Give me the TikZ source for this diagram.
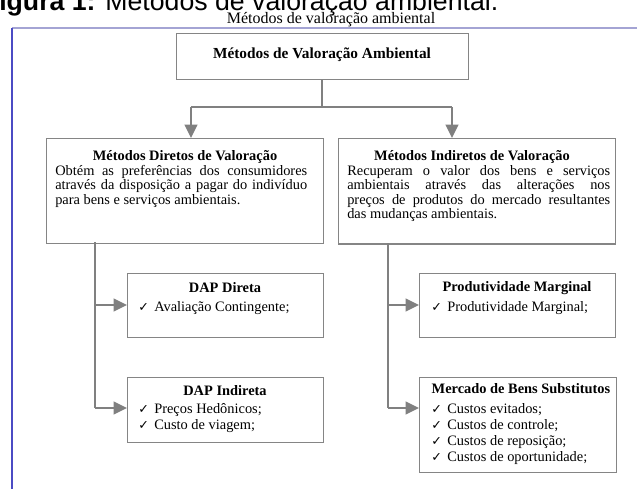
\documentclass[tikz,border=0pt]{standalone}
\usepackage{fontspec}
\setmainfont{Liberation Serif}
\newfontfamily\hdrfont{Liberation Sans}
\newfontfamily\symfont{DejaVu Sans}
\usetikzlibrary{arrows.meta}
\definecolor{linegray}{HTML}{808080}
\definecolor{boxgray}{HTML}{858585}
\definecolor{frametop}{HTML}{A4A4D4}
\definecolor{frameleft}{HTML}{4B4BC4}
\newcommand{\bodysize}{\fontsize{10.8pt}{11.25pt}\selectfont}
\newcommand{\chk}{{\symfont\fontsize{9.5pt}{9.5pt}\selectfont ✓}}
\begin{document}
\begin{tikzpicture}[x=0.75pt,y=-0.75pt,
  box/.style={draw=boxgray, line width=0.9pt, fill=white, anchor=north west, inner sep=0pt},
  conn/.style={draw=linegray, line width=1.2pt},
  arr/.style={conn, -{Triangle[length=10pt,width=9.5pt]}},
  ln/.style={inner sep=0pt, anchor=base west, font=\bodysize},
  ttl/.style={inner sep=0pt, anchor=base, font=\bodysize\bfseries},
  ck/.style={inner sep=0pt, anchor=base west},
]
\useasboundingbox (0,0) rectangle (637,489);
\clip (0,0) rectangle (637,489);
\fill[white] (0,0) rectangle (637,489);

% header and caption
\node[inner sep=0pt, anchor=base west, font=\hdrfont\fontsize{20pt}{20pt}\selectfont] (hdr) at (-1,10.5) {\textbf{igura 1:} Métodos de valoração ambiental.};
\node[inner sep=0pt, anchor=base, font=\fontsize{12pt}{12pt}\selectfont] (cap) at (331,23.5) {Métodos de valoração ambiental};

% frame
\draw[frametop, line width=1.2pt] (12,28) -- (640,28);
\draw[frameleft, line width=1.1pt] (12,27.5) -- (12,492);

% boxes
\node[box, minimum width=219pt, minimum height=34.5pt] (top) at (176,33) {};
\node[box, minimum width=207.75pt, minimum height=78.5pt] (lbox) at (46,138) {};
\node[box, minimum width=207.75pt, minimum height=79pt] (rbox) at (338,138) {};
\node[box, minimum width=147pt, minimum height=48pt] (dapd) at (127,273) {};
\node[box, minimum width=147pt, minimum height=48.75pt] (dapi) at (127,377) {};
\node[box, minimum width=147pt, minimum height=48pt] (prod) at (419,273) {};
\node[box, minimum width=147.75pt, minimum height=71.25pt] (merc) at (419,377) {};

% top text
\node[ttl, font=\fontsize{11.5pt}{12pt}\selectfont\bfseries] (toptitle) at (322,59) {Métodos de Valoração Ambiental};

% left box text
\node[ttl] (ltitle) at (185,161) {Métodos Diretos de Valoração};
\node[ln] (l1) at (55,175.5) {\makebox[189pt][s]{Obtém as preferências dos consumidores}};
\node[ln] (l2) at (55,190) {\makebox[189pt][s]{através da disposição a pagar do indivíduo}};
\node[ln] (l3) at (55,204.5) {para bens e serviços ambientais.};

% right box text
\node[ttl] (rtitle) at (472,161) {Métodos Indiretos de Valoração};
\node[ln] (r1) at (347,175.5) {\makebox[197.25pt][s]{Recuperam o valor dos bens e serviços}};
\node[ln] (r2) at (347,190) {\makebox[197.25pt][s]{ambientais através das alterações nos}};
\node[ln] (r3) at (347,204.5) {\makebox[197.25pt][s]{preços de produtos do mercado resultantes}};
\node[ln] (r4) at (347,219) {das mudanças ambientais.};

% DAP Direta
\node[ttl] (dapdt) at (225,292) {DAP Direta};
\node[ck] (dapdc1) at (138,311) {\chk};
\node[ln] (dapd1) at (154,311) {Avaliação Contingente;};

% DAP Indireta
\node[ttl] (dapit) at (225,395) {DAP Indireta};
\node[ck] (dapic1) at (138,413) {\chk};
\node[ln] (dapi1) at (154,413) {Preços Hedônicos;};
\node[ck] (dapic2) at (138,429) {\chk};
\node[ln] (dapi2) at (154,429) {Custo de viagem;};

% Produtividade Marginal
\node[ttl] (prodt) at (517,291) {Produtividade Marginal};
\node[ck] (prodc1) at (431,311) {\chk};
\node[ln] (prod1) at (447,311) {Produtividade Marginal;};

% Mercado de Bens Substitutos
\node[ttl] (merct) at (521,393) {Mercado de Bens Substitutos};
\node[ck] (mercc1) at (431,413) {\chk};
\node[ln] (merc1) at (447,413) {Custos evitados;};
\node[ck] (mercc2) at (431,429) {\chk};
\node[ln] (merc2) at (447,429) {Custos de controle;};
\node[ck] (mercc3) at (431,445) {\chk};
\node[ln] (merc3) at (447,445) {Custos de reposição;};
\node[ck] (mercc4) at (431,461) {\chk};
\node[ln] (merc4) at (447,461) {Custos de oportunidade;};

% connectors
\coordinate (j) at (322,107);
\coordinate (jl) at (191,107);
\coordinate (jr) at (452,107);
\draw[conn] (top.south -| j) -- (j);
\draw[conn] (jl) -- (jr);
\draw[arr] (jl) -- (jl |- lbox.north);
\draw[arr] (jr) -- (jr |- rbox.north);

\coordinate (bl) at (95,242);
\coordinate (blm) at (95,305);
\coordinate (blb) at (95,408);
\draw[conn] (bl) -- (blb);
\draw[arr] (blm) -- (blm -| dapd.west);
\draw[arr] (blb) -- (blb -| dapi.west);

\coordinate (br) at (388,243);
\coordinate (brm) at (388,305);
\coordinate (brb) at (388,408);
\draw[conn] (br) -- (brb);
\draw[arr] (brm) -- (brm -| prod.west);
\draw[arr] (brb) -- (brb -| merc.west);
\end{tikzpicture}
\end{document}
